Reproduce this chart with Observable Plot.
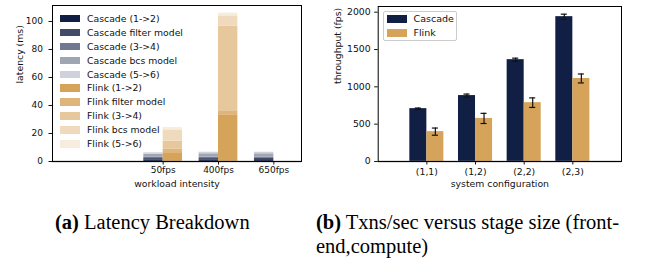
<!DOCTYPE html>
<html><head><meta charset="utf-8">
<script src="https://cdn.jsdelivr.net/npm/d3@7"></script>
<script src="https://cdn.jsdelivr.net/npm/@observablehq/plot@0.6"></script>
<style>
body{margin:0;background:#fff;}
#fig{position:relative;width:655px;height:265px;overflow:hidden;background:#fff;}
.chart{position:absolute;top:0;}
.legend{position:absolute;font-family:"DejaVu Sans";color:#111;}
.item{position:absolute;left:0;white-space:nowrap;}
.sw{position:absolute;}
.cap{position:absolute;font-family:"Liberation Serif";font-size:20.5px;line-height:24px;color:#000;white-space:nowrap;}
</style></head><body><div id="fig"></div>
<script>
// ---- data: latency breakdown (ms) ----
const workloads = ["50fps", "400fps", "650fps"];
const systems = ["Cascade", "Flink"];
const stages = ["(1->2)", "filter model", "(3->4)", "bcs model", "(5->6)"];
// rows: stage, columns: workload
const cascadeStageLatency = [
  [1.2, 1.2, 1.3],
  [0.9, 0.9, 0.9],
  [0.9, 1.0, 1.0],
  [2.2, 2.4, 2.3],
  [1.0, 1.1, 1.1]
];
const flinkStageLatency = [
  [5.7, 32.9, 0],
  [3.0, 2.8, 0],
  [5.8, 60.9, 0],
  [8.1, 7.4, 0],
  [1.7, 2.0, 0]
];
// ---- data: throughput (fps) ----
const configs = ["(1,1)", "(1,2)", "(2,2)", "(2,3)"];
const cascadeThroughput = [708, 883, 1364, 1940];
const cascadeErr = [8, 20, 20, 33];
const flinkThroughput = [400, 577, 788, 1112];
const flinkErr = [48, 68, 64, 60];
const latencyTicks = [0, 20, 40, 60, 80, 100];
const throughputTicks = [0, 500, 1000, 1500, 2000];

// ---- styles ----
const baseColors = {Cascade: "#111f44", Flink: "#d6a35a"};
const stageAlpha = [1, 0.8, 0.6, 0.4, 0.2];
const barW = 0.35;
const shade = (sys, k) => d3.interpolateRgb("#ffffff", baseColors[sys])(stageAlpha[k]);

const fig = document.getElementById("fig");
const font = {fontFamily: "DejaVu Sans", fontSize: "9px", color: "#111", background: "transparent", overflow: "visible"};

// ---- left: latency ----
const latRows = [];
systems.forEach((sys, s) => {
  const table = s === 0 ? cascadeStageLatency : flinkStageLatency;
  workloads.forEach((w, i) => {
    let acc = 0;
    stages.forEach((st, k) => {
      const v = table[k][i];
      latRows.push({i, x1: s === 0 ? i - barW : i, x2: s === 0 ? i : i + barW, y1: acc, y2: acc + v, color: shade(sys, k)});
      acc += v;
    });
  });
});

const left = Plot.plot({
  width: 330, height: 192, marginLeft: 52, marginRight: 29, marginTop: 5, marginBottom: 31,
  style: font,
  x: {domain: [-2, 2.5], axis: null},
  y: {domain: [0, 111.4], axis: null},
  color: {type: "identity"},
  marks: [
    Plot.rect(latRows, {x1: "x1", x2: "x2", y1: "y1", y2: "y2", fill: "color"}),
    Plot.ruleY([0], {stroke: "#808080", strokeWidth: 1.5}),
    Plot.frame({stroke: "#000", strokeWidth: 1}),
    Plot.axisY({ticks: latencyTicks, tickFormat: d => String(d), tickSize: 3.5, tickPadding: 6, label: null, fontSize: 9}),
    Plot.axisX({ticks: [0, 1, 2], tickFormat: i => workloads[i], tickSize: 3.5, tickPadding: 2, label: null, fontSize: 9}),
    Plot.text(["latency (ms)"], {text: d => d, frameAnchor: "left", dx: -32, rotate: -90, fontSize: 9.3, lineAnchor: "middle"}),
    Plot.text(["workload intensity"], {text: d => d, frameAnchor: "bottom", dy: 23, fontSize: 9.3, lineAnchor: "middle"})
  ]
});
left.classList.add("chart"); left.style.left = "0px";
fig.appendChild(left);

// ---- right: throughput ----
const thrRows = [];
configs.forEach((c, i) => {
  thrRows.push({x1: i - barW, x2: i, cx: i - barW / 2, v: cascadeThroughput[i], e: cascadeErr[i], color: baseColors.Cascade});
  thrRows.push({x1: i, x2: i + barW, cx: i + barW / 2, v: flinkThroughput[i], e: flinkErr[i], color: baseColors.Flink});
});
const capHalf = 0.062;
const right = Plot.plot({
  width: 325, height: 192, marginLeft: 47.7, marginRight: 34, marginTop: 6, marginBottom: 31,
  style: font,
  x: {domain: [-1, 4], axis: null},
  y: {domain: [0, 2076], axis: null},
  color: {type: "identity"},
  marks: [
    Plot.rect(thrRows, {x1: "x1", x2: "x2", y1: 0, y2: "v", fill: "color"}),
    Plot.ruleX(thrRows, {x: "cx", y1: d => d.v - d.e, y2: d => d.v + d.e, stroke: "#111", strokeWidth: 1.2}),
    Plot.ruleY(thrRows, {y: d => d.v + d.e, x1: d => d.cx - capHalf, x2: d => d.cx + capHalf, stroke: "#111", strokeWidth: 1.2}),
    Plot.ruleY(thrRows, {y: d => d.v - d.e, x1: d => d.cx - capHalf, x2: d => d.cx + capHalf, stroke: "#111", strokeWidth: 1.2}),
    Plot.ruleY([0], {stroke: "#808080", strokeWidth: 1.5}),
    Plot.frame({stroke: "#000", strokeWidth: 1}),
    Plot.axisY({ticks: throughputTicks, tickFormat: d => String(d), tickSize: 3.5, tickPadding: 4, label: null, fontSize: 9.3}),
    Plot.axisX({ticks: [0, 1, 2, 3], tickFormat: i => configs[i], tickSize: 3.5, tickPadding: 3, label: null, fontSize: 9.3}),
    Plot.text(["throughput (fps)"], {text: d => d, frameAnchor: "left", dx: -40, rotate: -90, fontSize: 9.3, lineAnchor: "middle"}),
    Plot.text(["system configuration"], {text: d => d, frameAnchor: "bottom", dy: 23, fontSize: 9.3, lineAnchor: "middle"})
  ]
});
right.classList.add("chart"); right.style.left = "330px";
fig.appendChild(right);

// ---- legends ----
function makeLegend(entries, opts) {
  const box = document.createElement("div");
  box.className = "legend";
  Object.assign(box.style, {left: opts.left + "px", top: opts.top + "px", width: opts.width + "px", height: opts.height + "px", fontSize: opts.fontSize + "px"});
  if (opts.frame) Object.assign(box.style, {border: "1px solid #cccccc", borderRadius: "2px", background: "rgba(255,255,255,0.8)", boxSizing: "border-box"});
  entries.forEach((e, j) => {
    const cy = opts.firstY + j * opts.step;
    const sw = document.createElement("div");
    sw.className = "sw";
    Object.assign(sw.style, {left: opts.swX + "px", top: (cy - opts.swH / 2) + "px", width: "20px", height: opts.swH + "px", background: e.color});
    const t = document.createElement("div");
    t.className = "item";
    t.textContent = e.label;
    Object.assign(t.style, {left: opts.textX + "px", top: (cy - opts.fontSize * 0.62) + "px", lineHeight: (opts.fontSize * 1.2) + "px"});
    box.appendChild(sw); box.appendChild(t);
  });
  fig.appendChild(box);
}
const latLegend = [];
systems.forEach(sys => stages.forEach((st, k) => latLegend.push({label: sys + " " + st, color: shade(sys, k)})));
makeLegend(latLegend, {left: 0, top: 0, width: 200, height: 160, fontSize: 9.3, firstY: 18.7, step: 13.9, swX: 60, swH: 7.5, textX: 87});
makeLegend(systems.map(s => ({label: s, color: baseColors[s]})), {left: 383, top: 11, width: 74, height: 30, fontSize: 9.5, frame: true, firstY: 7.2, step: 13.6, swX: 3, swH: 7.5, textX: 29.5});

// ---- captions ----
function caption(html, left, top) {
  const c = document.createElement("div");
  c.className = "cap"; c.innerHTML = html;
  c.style.left = left + "px"; c.style.top = top + "px";
  fig.appendChild(c);
}
caption("<b>(a)</b> Latency Breakdown", 55, 210);
caption("<b>(b)</b> Txns/sec versus stage size (front-<br>end,compute)", 316, 210);
</script>
</body></html>
